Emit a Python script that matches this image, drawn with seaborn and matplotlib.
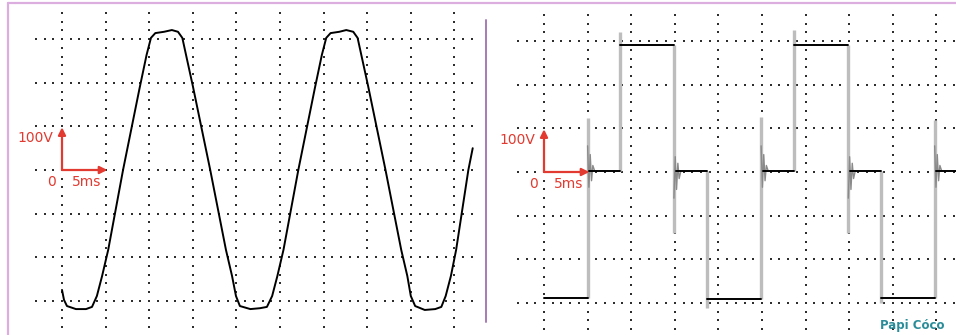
import numpy as np
import pandas as pd
import seaborn as sns
import matplotlib.pyplot as plt
from matplotlib.lines import Line2D

# --------------------------------------------------
# Data (time in ms, voltage in V)
# --------------------------------------------------
# left trace: sine-like trapezoid, vertices
sine_t = [0.0, 0.23, 0.57, 1.6, 2.75, 3.44, 4.0, 4.6, 5.3, 7.0, 8.9, 9.7,
          10.2, 10.7, 11.7, 12.6, 13.3, 13.8, 14.3, 15.0, 17.0, 18.8, 19.5,
          19.95, 20.4, 21.6, 22.7, 23.5, 24.1, 24.7, 25.4, 27.1, 29.0, 29.8,
          30.3, 30.8, 31.8, 32.6, 33.4, 33.9, 34.4, 35.1, 37.1, 38.9, 39.6,
          40.0, 40.5, 41.6, 42.8, 43.5, 44.0, 44.6, 45.2, 46.6, 47.1]
sine_v = [-275, -298, -312, -319, -319, -314, -289, -243, -183, 0, 188, 264,
          303, 314, 317, 321, 317, 303, 257, 193, 0, -183, -243,
          -289, -312, -319, -317, -314, -289, -243, -183, 0, 188, 264,
          303, 314, 317, 321, 317, 303, 257, 193, 0, -183, -243,
          -289, -312, -321, -319, -314, -289, -243, -183, 0, 50]

# right trace: three-level square wave
seg_start = [0.0, 5.2, 8.7, 15.1, 18.7, 25.1, 28.7, 35.1, 38.6, 45.0]
seg_end = [5.0, 8.7, 14.9, 18.7, 24.9, 28.7, 34.9, 38.6, 44.8, 47.3]
seg_level = [-290, 3, 292, 3, -292, 3, 292, 3, -290, 3]

# switching edges (grey) with their spikes
edge_t = [5.0, 8.7, 14.9, 18.7, 24.9, 28.7, 34.9, 38.6, 44.8]
edge_from = [-290, 3, 292, 3, -292, 3, 292, 3, -290]
edge_to = [124, 321, -140, -312, 126, 326, -140, -300, 120]

# ringing after edges into the zero level
ring_dt = [0.0, 0.15, 0.3, 0.45, 0.6, 0.8]
ring_up = [60, -35, 40, -20, 15, 3]
ring_down = [-60, 35, -40, 20, -15, 3]

# --------------------------------------------------
# Figure
# --------------------------------------------------
sns.set_theme(style="white")
plt.rcParams['font.family'] = ['DejaVu Sans']

W, H = 956, 335
fig = plt.figure(figsize=(W / 100, H / 100), dpi=100)
fig.patch.set_facecolor("white")

px_t = 5 / 43.6      # ms per pixel
px_v = 100 / 43.6    # V per pixel

# left screen: origin at px (62,170); right screen: origin at px (544,172)
ax1 = fig.add_axes([0, 0, 486 / W, 1])
ax1.set_xlim((0 - 62) * px_t, (486 - 62) * px_t)
ax1.set_ylim((170 - H) * px_v, 170 * px_v)

ax2 = fig.add_axes([487 / W, 0, (W - 487) / W, 1])
ax2.set_xlim((487 - 544) * px_t, (W - 544) * px_t)
ax2.set_ylim((172 - H) * px_v, 172 * px_v)

red = "#e23a30"
dot_col = "#2e2e2e"

for ax, h0, h1 in [(ax1, -3, 47), (ax2, -3, 48)]:
    ax.set_axis_off()
    # dotted graticule
    ht = np.arange(h0, h1 + 1, 1.0)
    for v in range(-300, 301, 100):
        ax.scatter(ht, np.full(ht.shape, v), s=1.8, marker="s",
                   color=dot_col, linewidths=0, zorder=1)
    vv = np.arange(-360, 361, 20)
    for t in range(0, 46, 5):
        ax.scatter(np.full(vv.shape, t), vv, s=1.8, marker="s",
                   color=dot_col, linewidths=0, zorder=1)

    # scale arrows
    ax.annotate("", xy=(0, 98), xytext=(0, 0),
                arrowprops=dict(arrowstyle="-|>", color=red, lw=1.6,
                                mutation_scale=11, shrinkA=0, shrinkB=0),
                zorder=5)
    ax.annotate("", xy=(5.2, 0), xytext=(0, 0),
                arrowprops=dict(arrowstyle="-|>", color=red, lw=1.6,
                                mutation_scale=11, shrinkA=0, shrinkB=0),
                zorder=5)
    ax.text(-0.95, 74, "100V", color=red, fontsize=10, ha="right", va="center")
    ax.text(-1.2, -27, "0", color=red, fontsize=10, ha="center", va="center")
    ax.text(1.1, -27, "5ms", color=red, fontsize=10, ha="left", va="center")

# left trace
df_sine = pd.DataFrame({"t": sine_t, "v": sine_v})
sns.lineplot(data=df_sine, x="t", y="v", ax=ax1, color="black", lw=1.4,
             sort=False, estimator=None, zorder=4)

# right trace: grey edges, ringing, black levels
ax2.vlines(edge_t, edge_from, edge_to, color="#bdbdbd", lw=2.4, zorder=2)
for t, a, b in zip(edge_t, edge_from, edge_to):
    if abs(b) < 200:
        ring = ring_up if a < 0 else ring_down
        ax2.plot([t + d for d in ring_dt], ring, color="#8a8a8a", lw=1.0,
                 zorder=3)

rows = []
for i, (a, b, lvl) in enumerate(zip(seg_start, seg_end, seg_level)):
    rows.append({"seg": i, "t": a, "v": lvl})
    rows.append({"seg": i, "t": b, "v": lvl})
df_sq = pd.DataFrame(rows)
sns.lineplot(data=df_sq, x="t", y="v", units="seg", estimator=None, ax=ax2,
             color="black", lw=1.4, zorder=4)

for ax in (ax1, ax2):
    ax.set_xlabel("")
    ax.set_ylabel("")

# screen frame
fig.add_artist(Line2D([8 / W, 1], [1 - 3 / H, 1 - 3 / H], color="#dcaee0", lw=1.6))
fig.add_artist(Line2D([8 / W, 8 / W], [0, 1 - 3 / H], color="#dcaee0", lw=1.6))
fig.add_artist(Line2D([486 / W, 486 / W], [1 - 322 / H, 1 - 20 / H],
                      color="#a77bb5", lw=1.4))

fig.text(880 / W, 1 - 325 / H, "Papi Cóco", color="#2a8c99", fontsize=8.5,
         fontweight="bold", ha="left", va="center")

plt.savefig("out.png", dpi=100)
plt.close()
